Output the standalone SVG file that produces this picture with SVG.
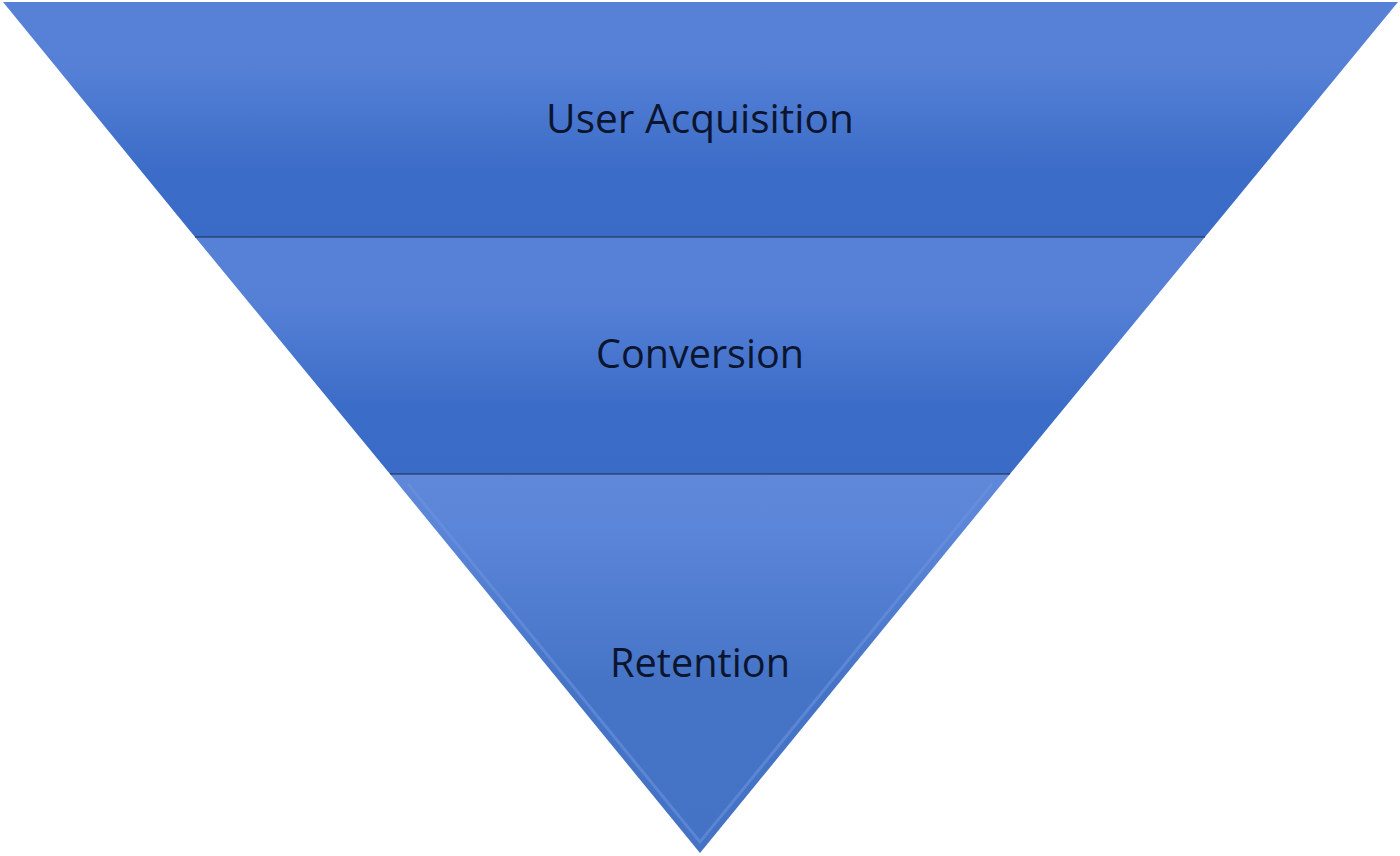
<svg xmlns="http://www.w3.org/2000/svg" width="1400" height="856" viewBox="0 0 1400 856">
<style>
.lbl{font-family:"Open Sans","Noto Sans",sans-serif;font-size:41px;fill:#0c1530;text-anchor:middle}
.sep{stroke:#1b2a4a;stroke-width:1.2}
.bevel{fill:none;stroke:#6a92de;stroke-width:3;stroke-opacity:0.6}
</style>
<defs>
<linearGradient id="g1" x1="0" y1="2" x2="0" y2="237" gradientUnits="userSpaceOnUse">
<stop offset="0" stop-color="#5781d7"/>
<stop offset="0.28" stop-color="#5580d6"/>
<stop offset="0.72" stop-color="#3b6cc7"/>
<stop offset="1" stop-color="#3a6bc6"/>
</linearGradient>
<linearGradient id="g2" x1="0" y1="237" x2="0" y2="474" gradientUnits="userSpaceOnUse">
<stop offset="0" stop-color="#5781d7"/>
<stop offset="0.28" stop-color="#5580d6"/>
<stop offset="0.72" stop-color="#3b6cc7"/>
<stop offset="1" stop-color="#3a6bc6"/>
</linearGradient>
<linearGradient id="g3" x1="0" y1="474" x2="0" y2="853" gradientUnits="userSpaceOnUse">
<stop offset="0" stop-color="#6088d9"/>
<stop offset="0.15" stop-color="#5b85d8"/>
<stop offset="0.55" stop-color="#4574c6"/>
<stop offset="1" stop-color="#4472c4"/>
</linearGradient>
</defs>
<g id="band-acquisition">
<polygon points="3,2 1398,2 1205,237 195,237" fill="url(#g1)"/>
<text class="lbl" x="700" y="133" textLength="308" lengthAdjust="spacingAndGlyphs">User Acquisition</text>
</g>
<g id="band-conversion">
<polygon points="195,237 1205,237 1010,474 390,474" fill="url(#g2)"/>
<text class="lbl" x="700" y="368" textLength="208" lengthAdjust="spacingAndGlyphs">Conversion</text>
</g>
<g id="band-retention">
<polygon points="390,474 1010,474 700,853" fill="url(#g3)"/>
<polyline class="bevel" points="408,484 700,842 992,484"/>
<text class="lbl" x="700" y="677" textLength="180" lengthAdjust="spacingAndGlyphs">Retention</text>
</g>
<g id="connectors">
<line class="sep" x1="195" y1="237" x2="1205" y2="237"/>
<line class="sep" x1="390" y1="474" x2="1010" y2="474"/>
</g>
</svg>
